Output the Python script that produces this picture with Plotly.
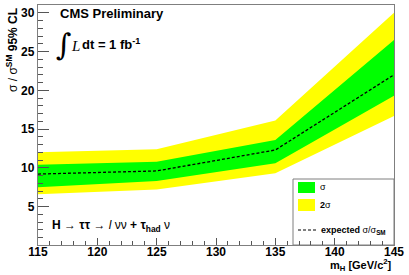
import plotly.graph_objects as go

mass = [115, 125, 135, 145]
expected = [9.2, 9.6, 12.3, 22.0]
one_sigma_lo = [7.5, 8.3, 10.6, 19.3]
one_sigma_hi = [10.4, 10.8, 13.6, 26.5]
two_sigma_lo = [6.6, 7.2, 9.3, 16.7]
two_sigma_hi = [12.0, 12.4, 16.1, 30.0]

W, H = 409, 275
L, R, T, B = 38, 15, 5, 30
PW, PH = W - L - R, H - T - B

def px(x):
    return (x - L) / PW

def py(y):
    return (H - B - y) / PH

YELLOW = "#FFFF00"
GREEN = "#00FF00"

fig = go.Figure()
fig.add_trace(go.Scatter(x=mass, y=two_sigma_lo, mode="lines", line=dict(width=0, color=YELLOW), showlegend=False, hoverinfo="skip"))
fig.add_trace(go.Scatter(x=mass, y=two_sigma_hi, mode="lines", line=dict(width=0, color=YELLOW), fill="tonexty", fillcolor=YELLOW, showlegend=False, hoverinfo="skip"))
fig.add_trace(go.Scatter(x=mass, y=one_sigma_lo, mode="lines", line=dict(width=0, color=GREEN), showlegend=False, hoverinfo="skip"))
fig.add_trace(go.Scatter(x=mass, y=one_sigma_hi, mode="lines", line=dict(width=0, color=GREEN), fill="tonexty", fillcolor=GREEN, showlegend=False, hoverinfo="skip"))
fig.add_trace(go.Scatter(x=mass, y=expected, mode="lines", line=dict(width=1.3, color="black", dash="3px,2px"), showlegend=False))

FONT = "Liberation Sans, Arial, sans-serif"
axis_common = dict(showline=True, linecolor="#7f7f7f", linewidth=1.3, mirror=True, showgrid=False, zeroline=False,
                   ticks="inside", tickcolor="#555555", tickwidth=1,
                   tickfont=dict(family=FONT, size=12, color="black", weight="bold"))

fig.update_layout(
    width=W, height=H,
    margin=dict(l=L, r=R, t=T, b=B),
    paper_bgcolor="white", plot_bgcolor="white",
    font=dict(family=FONT, color="black"),
    xaxis=dict(range=[115, 145], tick0=115, dtick=5, ticklen=7, ticklabelstandoff=-5,
               minor=dict(ticks="inside", dtick=1, ticklen=4, tickcolor="#555555"), **axis_common),
    yaxis=dict(range=[0.05, 31], tick0=0, dtick=5, ticklen=11,
               minor=dict(ticks="inside", dtick=1, ticklen=5, tickcolor="#555555"), **axis_common),
)

shapes = [
    dict(type="rect", xref="paper", yref="paper", x0=px(293), x1=1, y0=0, y1=py(179),
         fillcolor="white", line=dict(color="#7f7f7f", width=1), layer="below"),
    dict(type="rect", xref="paper", yref="paper", x0=px(298), x1=px(315), y0=py(193), y1=py(182),
         fillcolor=GREEN, line=dict(width=0)),
    dict(type="rect", xref="paper", yref="paper", x0=px(298), x1=px(315), y0=py(211), y1=py(199),
         fillcolor=YELLOW, line=dict(width=0)),
    dict(type="line", xref="paper", yref="paper", x0=px(298), x1=px(316), y0=py(230), y1=py(230),
         line=dict(color="black", width=1, dash="3px,2px")),
]
fig.update_layout(shapes=shapes)

def ann(text, x, y, size, xanchor="left", yanchor="middle", angle=0, family=FONT):
    fig.add_annotation(text=text, xref="paper", yref="paper", x=px(x), y=py(y), showarrow=False,
                       xanchor=xanchor, yanchor=yanchor, textangle=angle,
                       font=dict(family=family, size=size, color="black"))

ann("<b>CMS Preliminary</b>", 58, 14, 13)
ann("∫", 54, 45, 30, family="DejaVu Serif")
ann("<i>L</i>", 69, 46, 15, family="Liberation Serif")
ann("<b>dt = 1 fb<sup>-1</sup></b>", 80, 44, 13)
ann("<b>H → ττ → </b><i>l</i> νν <b>+ τ<sub>had</sub></b> ν", 50, 226, 12)
ann("σ", 318, 187, 9)
ann("<b>2</b>σ", 318, 205, 9)
ann("<b>expected</b> σ/σ<sub><b>SM</b></sub>", 319, 230, 9)
ann("<b>m<sub>H</sub> [GeV/c<sup>2</sup>]</b>", 394, 265, 11, xanchor="right")
ann("σ / σ<sup><b>SM</b></sup> <b>95% CL</b>", 12, 50, 12, xanchor="center", angle=-90)

fig.write_html("out.html", config={"displayModeBar": False},
               post_script="document.body.style.margin='0';document.body.style.padding='0';")
